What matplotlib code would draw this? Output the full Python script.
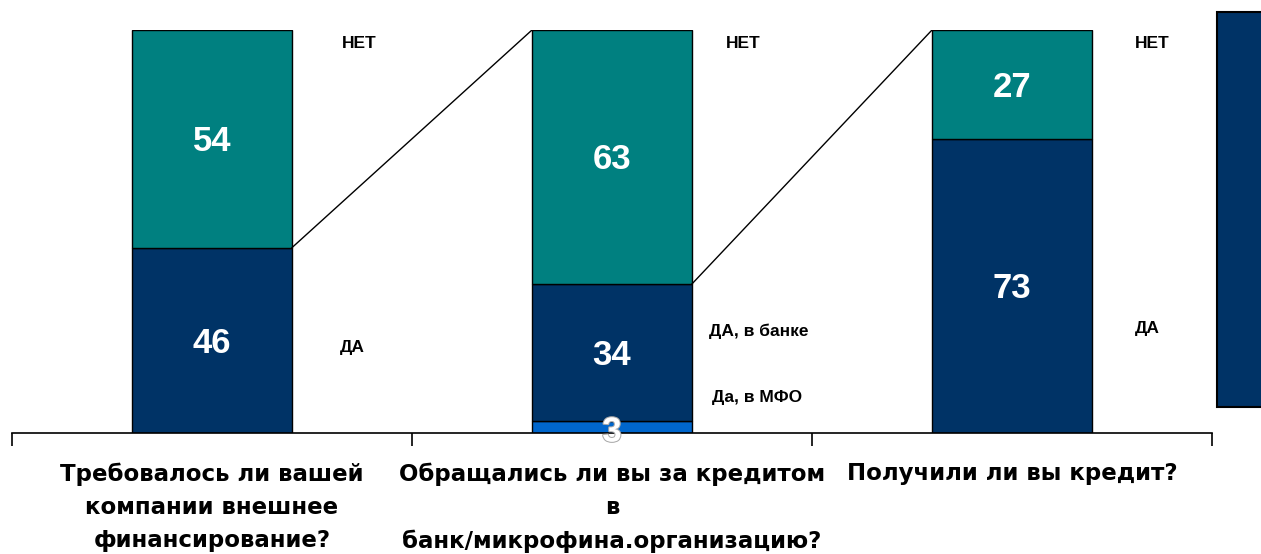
import matplotlib
matplotlib.use("Agg")
import matplotlib.pyplot as plt
from matplotlib.patches import Rectangle
import matplotlib.patheffects as pe

plt.rcParams['font.family'] = ['Liberation Sans', 'DejaVu Sans']

categories = ["Требовалось ли вашей\nкомпании внешнее\nфинансирование?",
              "Обращались ли вы за кредитом\nв\nбанк/микрофина.организацию?",
              "Получили ли вы кредит?"]
mfo = [0, 3, 0]
da = [46, 34, 73]
net = [54, 63, 27]
da_labels = ["ДА", "ДА, в банке", "ДА"]
mfo_label = "Да, в МФО"
net_label = "НЕТ"

c_net = "#008080"
c_da = "#003366"
c_mfo = "#0066CC"

W, H = 1261, 554
fig = plt.figure(figsize=(W / 100, H / 100), dpi=100)
ax = fig.add_axes([12 / W, (H - 433) / H, 1200 / W, 403 / H])
x = list(range(len(categories)))
bw = 0.4

b1 = ax.bar(x, mfo, bw, color=c_mfo, edgecolor="black", linewidth=1)
b2 = ax.bar(x, da, bw, bottom=mfo, color=c_da, edgecolor="black", linewidth=1)
bot2 = [m + d for m, d in zip(mfo, da)]
b3 = ax.bar(x, net, bw, bottom=bot2, color=c_net, edgecolor="black", linewidth=1)

for r, v in zip(b1, mfo):
    if v == 0:
        r.set_visible(False)

# value labels (baseline placed so cap height is centred in the segment)
cap_half = 3.1
for i in x:
    ax.text(i, mfo[i] + da[i] / 2 - cap_half, str(da[i]), ha="center", va="baseline",
            color="white", fontsize=25, fontweight="bold")
    ax.text(i, bot2[i] + net[i] / 2 - cap_half, str(net[i]), ha="center", va="baseline",
            color="white", fontsize=25, fontweight="bold")
ax.text(1, 1.0 - cap_half, str(mfo[1]), ha="center", va="baseline", color="white",
        fontsize=25, fontweight="bold",
        path_effects=[pe.withStroke(linewidth=1.5, foreground="#aaaaaa")])

# side labels
net_x = [0.325, 0.285, 0.3075]
for i in x:
    ax.text(i + net_x[i], 96.65, net_label, ha="left", va="center", fontsize=12.5, fontweight="bold")
da_y = [21.3, 25.3, 25.9]
da_x = [0.32, 0.2425, 0.3075]
for i in x:
    ax.text(i + da_x[i], da_y[i], da_labels[i], ha="left", va="center", fontsize=12.5, fontweight="bold")
ax.text(1.25, 8.7, mfo_label, ha="left", va="center", fontsize=12.5, fontweight="bold")

# connector lines
for i in range(len(x) - 1):
    ax.plot([i + bw / 2, i + 1 - bw / 2], [bot2[i], 100], color="black", linewidth=1)

ax.set_xlim(-0.5, 2.5)
ax.set_ylim(0, 100)
for s in ["left", "right", "top"]:
    ax.spines[s].set_visible(False)
ax.spines["bottom"].set_linewidth(1.2)
ax.set_yticks([])
ax.set_xticks([-0.5, 0.5, 1.5, 2.5])
ax.set_xticklabels([])
ax.tick_params(axis="x", length=9, width=1.2, direction="out")
for i, c in enumerate(categories):
    ax.text(i, -7.3, c, ha="center", va="top", fontsize=16.5, fontweight="bold",
            family=["DejaVu Sans"], linespacing=1.57, clip_on=False)

# partial legend box on the right edge
fig.patches.append(Rectangle((1217 / W, (H - 407) / H), 60 / W, 395 / H,
                             transform=fig.transFigure, facecolor=c_da,
                             edgecolor="black", linewidth=1.5))

fig.savefig("out.png", dpi=100)
